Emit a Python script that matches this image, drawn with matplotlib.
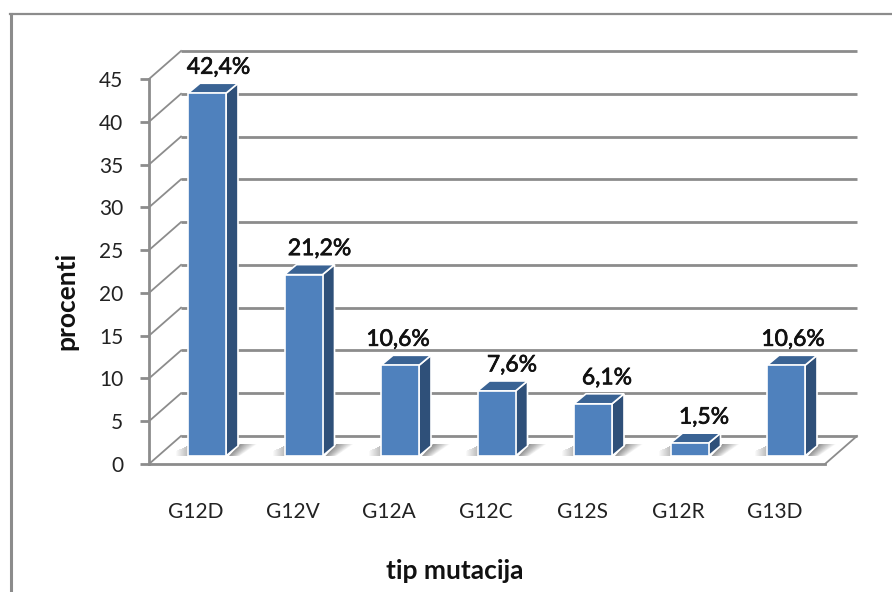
import matplotlib
matplotlib.use('Agg')
import matplotlib.pyplot as plt
import matplotlib.patheffects as pe
from matplotlib.lines import Line2D
from matplotlib.patches import Polygon, Rectangle

plt.rcParams['font.family'] = ['Lato', 'DejaVu Sans']

categories = ['G12D', 'G12V', 'G12A', 'G12C', 'G12S', 'G12R', 'G13D']
values = [42.4, 21.2, 10.6, 7.6, 6.1, 1.5, 10.6]
labels = ['42,4%', '21,2%', '10,6%', '7,6%', '6,1%', '1,5%', '10,6%']
y_ticks = [0, 5, 10, 15, 20, 25, 30, 35, 40, 45]

GREY = '#8c8c8c'
FRONT = '#4f81bd'
SIDE = '#2f5079'
TOP = '#3a6394'

# pomak natpisa u pikselima (nisu centrirani nad stupcima)
label_dx = [11.5, 16, -2, 15.5, 14, 14.5, 7]

fig = plt.figure(figsize=(8.92, 5.92), dpi=100)

# rand oko grafa: samo lijevo i gore
fig.add_artist(Line2D([10.5 / 892, 10.5 / 892], [0, 1 - 14 / 592], color=GREY, lw=2.2))
fig.add_artist(Line2D([9.5 / 892, 1], [1 - 14 / 592, 1 - 14 / 592], color=GREY, lw=1.6))

ax = fig.add_axes([149 / 892, (592 - 464) / 592, 676 / 892, 385 / 592])
px_x = 96.5
px_y = 385 / 45
ax.set_xlim(-(207 - 149) / px_x, (825 - 207) / px_x)
ax.set_ylim(0, 45)

# pikseli u jedinice osi
wall_x = 32 / px_x
wall_y = 28 / px_y
depth_x = 12 / px_x
depth_y = 10 / px_y
lift = 8 / px_y
half = 19 / px_x
x0, x1 = ax.get_xlim()

# zadnji zid i pod
for t in y_ticks:
    ax.plot([x0 + wall_x, x1 + wall_x], [t + wall_y, t + wall_y], color=GREY, lw=2.0,
            clip_on=False, zorder=1, solid_capstyle='butt')
    ax.plot([x0, x0 + wall_x], [t, t + wall_y], color=GREY, lw=1.3, clip_on=False, zorder=1)
ax.plot([x1, x1 + wall_x], [0, wall_y], color=GREY, lw=1.3, clip_on=False, zorder=1)

for i, (v, lab) in enumerate(zip(values, labels)):
    # sjena na podu
    n = 14
    for k in range(n):
        a = 0.7 * (1 - k / n)
        bx = i + half + (3 + k * 0.75) / px_x
        tx = i + half + (14 + k * 1.2) / px_x
        w = 0.8 / px_x
        ax.add_patch(Polygon([(bx, lift), (bx + w, lift), (tx + 1.5 * w, lift + 1.2 * depth_y), (tx, lift + 1.2 * depth_y)],
                             fc='#555555', ec='none', alpha=a, zorder=2, clip_on=False))
    for k in range(12):
        lx = i - half - (k + 1) / px_x
        ax.add_patch(Rectangle((lx, lift), 1 / px_x, depth_y * (1 - k / 24), fc='#777777', ec='none',
                               alpha=0.5 * (1 - k / 12), zorder=2, clip_on=False))

    top = lift + v
    # bok, vrh i prednja strana stupca
    ax.add_patch(Polygon([(i + half, lift), (i + half + depth_x, lift + depth_y),
                          (i + half + depth_x, top + depth_y), (i + half, top)],
                         fc=SIDE, ec='white', lw=1.2, zorder=3, clip_on=False))
    ax.add_patch(Polygon([(i - half, top), (i - half + depth_x, top + depth_y),
                          (i + half + depth_x, top + depth_y), (i + half, top)],
                         fc=TOP, ec='white', lw=1.2, zorder=3, clip_on=False))
    ax.add_patch(Rectangle((i - half, lift), 2 * half, v, fc=FRONT, ec='white', lw=1.2,
                           zorder=4, clip_on=False))
    ax.annotate(lab, (i, top + depth_y), xytext=(label_dx[i], 16), textcoords='offset pixels',
                ha='center', va='center', fontsize=16.5, color='#111111', zorder=6,
                annotation_clip=False,
                path_effects=[pe.withStroke(linewidth=0.5, foreground='#111111')])

for s in ['top', 'right']:
    ax.spines[s].set_visible(False)
for s in ['left', 'bottom']:
    ax.spines[s].set_color(GREY)
    ax.spines[s].set_linewidth(2.0)
    ax.spines[s].set_zorder(5)

ax.set_yticks(y_ticks)
ax.tick_params(axis='y', length=6.5, width=2.0, color=GREY, labelsize=15, labelcolor='#222222', pad=12)
# natpisi kategorija stoje lijevo od stupaca
ax.set_xticks([i - 11 / px_x for i in range(len(categories))], categories)
ax.tick_params(axis='x', length=0, labelsize=15, labelcolor='#222222', pad=27)

fig.text(66 / 892, 1 - 301 / 592, 'procenti', rotation=90, ha='center', va='center',
         fontsize=19, fontweight='bold', color='#111111')
fig.text(455 / 892, 1 - 571 / 592, 'tip mutacija', ha='center', va='center',
         fontsize=19, fontweight='bold', color='#111111')

fig.savefig('out.png', dpi=100, facecolor='white')
